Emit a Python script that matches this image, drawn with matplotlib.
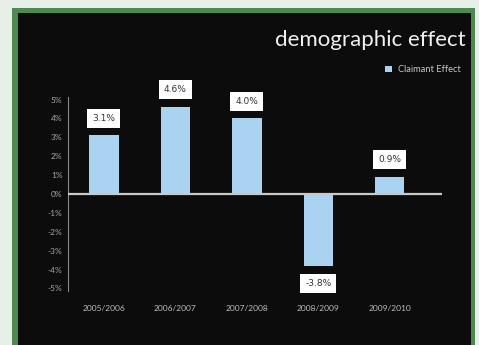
import matplotlib.pyplot as plt
from matplotlib.patches import Rectangle

categories = ["2005/2006", "2006/2007", "2007/2008", "2008/2009", "2009/2010"]
values = [3.1, 4.6, 4.0, -3.8, 0.9]
labels = ["3.1%", "4.6%", "4.0%", "-3.8%", "0.9%"]
yticks = [5, 4, 3, 2, 1, 0, -1, -2, -3, -4, -5]
ytick_labels = ["5%", "4%", "3%", "2%", "1%", "0%", "-1%", "-2%", "-3%", "-4%", "-5%"]
title = "demographic effect"
series_name = "Claimant Effect"

W, H = 479, 345
fig = plt.figure(figsize=(W / 100, H / 100), dpi=100)
fig.patch.set_facecolor("#e8efe9")

# green frame and black panel
fig.patches.append(Rectangle((12 / W, 0), (475 - 12) / W, (H - 8) / H,
                             transform=fig.transFigure, facecolor="#4e8a4f",
                             edgecolor="none", zorder=-2))
fig.patches.append(Rectangle((18 / W, 0), (471 - 18) / W, (H - 13) / H,
                             transform=fig.transFigure, facecolor="#0c0c0c",
                             edgecolor="none", zorder=-1))

ax = fig.add_axes([68 / W, (H - 291.3) / H, (442 - 68) / W, (291.3 - 96.7) / H])
ax.set_facecolor("none")
ax.set_zorder(1)

x = list(range(len(categories)))
bar_color = "#a9d3f0"
ax.bar(x, values, width=0.41, color=bar_color, zorder=2)
ax.axhline(0, color="#c9c9c9", linewidth=1.6, zorder=3)

ax.set_xlim(-0.503, 4.73)
ax.set_ylim(-5.15, 5.15)

for xi, v, lab in zip(x, values, labels):
    off = 12.5 if v >= 0 else -12.5
    ax.annotate(lab, (xi, v), xytext=(0, off), textcoords="offset points",
                ha="center", va="center", fontsize=6.5, color="#333333",
                family="DejaVu Sans",
                bbox=dict(boxstyle="square,pad=0.55", facecolor="white",
                          edgecolor="none"), zorder=4, annotation_clip=False)

ax.set_yticks(yticks)
ax.set_yticklabels(ytick_labels)
ax.set_xticks(x)
ax.set_xticklabels(categories)
ax.tick_params(axis="y", length=0, pad=4, labelsize=6, labelcolor="#a8a8a8")
ax.tick_params(axis="x", length=0, pad=10, labelsize=6, labelcolor="#bdbdbd")
for t in ax.get_xticklabels() + ax.get_yticklabels():
    t.set_family("Lato")

for s in ["top", "right", "bottom"]:
    ax.spines[s].set_visible(False)
ax.spines["left"].set_color("#8a8a8a")
ax.spines["left"].set_linewidth(0.8)
ax.spines["left"].set_bounds(-5.15, 5.15)

fig.text(466 / W, 1 - 40 / H, title, ha="right", va="center", fontsize=16,
         color="#f0f0f0", family="Lato", fontweight="normal")

# legend
fig.patches.append(Rectangle((385 / W, 1 - 72 / H), 7 / W, 6 / H,
                             transform=fig.transFigure, facecolor=bar_color,
                             edgecolor="none", zorder=3))
fig.text(398 / W, 1 - 69 / H, series_name, ha="left", va="center",
         fontsize=6.7, color="#c8c8c8", family="Lato")

fig.savefig("out.png", dpi=100, facecolor=fig.get_facecolor())
